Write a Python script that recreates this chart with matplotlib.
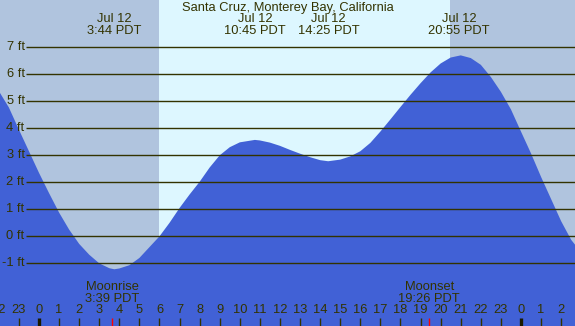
import matplotlib
matplotlib.use('Agg')
import matplotlib.pyplot as plt

plt.rcParams['font.family'] = ['Liberation Sans', 'DejaVu Sans']

# ---- data ----
tide_hours = [-2, -1.5, -1, -0.5, 0, 0.5, 1, 1.5, 2, 2.5, 3, 3.5, 3.75, 4, 4.5, 5, 5.5,
              6, 6.5, 7, 7.5, 8, 8.5, 9, 9.5, 10, 10.75, 11, 11.5, 12, 12.5, 13, 13.5,
              14, 14.4, 15, 15.5, 16, 16.5, 17, 17.5, 18, 18.5, 19, 19.5, 20, 20.5, 21,
              21.5, 22, 22.5, 23, 23.5, 24, 24.5, 25, 25.5, 26, 26.5, 27]
tide_ft = [5.38, 4.77, 3.95, 3.15, 2.35, 1.6, 0.88, 0.25, -0.28, -0.68, -1.0, -1.18, -1.22,
           -1.19, -1.07, -0.8, -0.4, 0.0, 0.5, 1.05, 1.55, 2.02, 2.55, 3.0, 3.3, 3.48, 3.57,
           3.55, 3.47, 3.35, 3.2, 3.06, 2.93, 2.82, 2.78, 2.84, 2.96, 3.15, 3.46, 3.88,
           4.33, 4.79, 5.24, 5.67, 6.07, 6.4, 6.62, 6.70, 6.6, 6.35, 5.9, 5.35, 4.7, 3.88,
           3.07, 2.2, 1.38, 0.56, -0.13, -0.6]

grid_levels = [-1, 0, 1, 2, 3, 4, 5, 6, 7]
grid_labels = ['-1 ft', '0 ft', '1 ft', '2 ft', '3 ft', '4 ft', '5 ft', '6 ft', '7 ft']

hour_ticks = list(range(-2, 27))
hour_labels = [str(h % 24) for h in hour_ticks]
midnight_ticks = [0, 24]

sunrise_h = 5.98
sunset_h = 20.47

extreme_times = [3.73, 10.75, 14.42, 20.92]
extreme_dates = ['Jul 12', 'Jul 12', 'Jul 12', 'Jul 12']
extreme_labels = ['3:44 PDT', '10:45 PDT', '14:25 PDT', '20:55 PDT']

moon_times = [3.65, 19.43]
moon_names = ['Moonrise', 'Moonset']
moon_labels = ['3:39 PDT', '19:26 PDT']

title = 'Santa Cruz, Monterey Bay, California'

# ---- styling ----
night_col = '#b0c4de'
day_col = '#ddf7ff'
fill_col = '#4161d6'
ink = '#333300'
fs = 9.3

x_min, x_max = -1.942, 26.69
y_min, y_max = -3.32, 8.75

fig = plt.figure(figsize=(5.75, 3.26), dpi=100)
ax = fig.add_axes([0, 0, 1, 1])
ax.set_xlim(x_min, x_max)
ax.set_ylim(y_min, y_max)
ax.axis('off')

ax.axvspan(x_min, sunrise_h, color=night_col, lw=0, zorder=0)
ax.axvspan(sunrise_h, sunset_h, color=day_col, lw=0, zorder=0)
ax.axvspan(sunset_h, x_max, color=night_col, lw=0, zorder=0)

ax.fill_between(tide_hours, tide_ft, y_min, color=fill_col, lw=0, zorder=1)

ax.hlines(grid_levels, -0.647, x_max, colors=ink, lw=1.0, zorder=2)
for lv, lab in zip(grid_levels, grid_labels):
    ax.text(-0.72, lv, lab, ha='right', va='center', fontsize=fs, color=ink, zorder=3)

ax.text((x_min + x_max) / 2, 8.46, title, ha='center', va='center', fontsize=fs, color=ink)
for t, d, lab in zip(extreme_times, extreme_dates, extreme_labels):
    ax.text(t, 8.05, d, ha='center', va='center', fontsize=fs, color=ink)
    ax.text(t, 7.60, lab, ha='center', va='center', fontsize=fs, color=ink)

for t, n, lab in zip(moon_times, moon_names, moon_labels):
    ax.text(t, -1.88, n, ha='center', va='center', fontsize=fs, color=ink, zorder=3)
    ax.text(t, -2.32, lab, ha='center', va='center', fontsize=fs, color=ink, zorder=3)

tick_top = -3.03
for h, lab in zip(hour_ticks, hour_labels):
    ax.text(h, -2.73, lab, ha='center', va='center', fontsize=fs, color=ink, zorder=3)
    if h in midnight_ticks:
        ax.vlines(h, y_min, tick_top, colors='#1a1a00', lw=2.4, zorder=3)
    else:
        ax.vlines(h, y_min, tick_top, colors=ink, lw=1.0, zorder=3)
ax.vlines(moon_times, y_min, tick_top, colors='red', lw=1.0, zorder=3)

fig.savefig('out.png', dpi=100)
